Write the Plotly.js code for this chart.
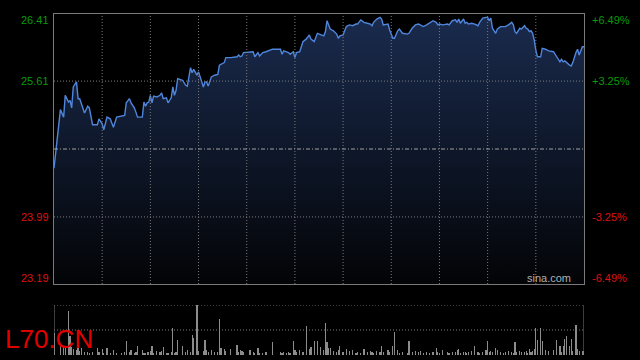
<!DOCTYPE html>
<html><head><meta charset="utf-8">
<script src="https://cdn.plot.ly/plotly-3.0.1.min.js"></script>
<style>html,body{margin:0;padding:0;background:#000;}#chart{width:640px;height:360px;}</style>
</head><body><div id="chart"></div>
<script>
// ---- data ----
const symbol = "L70.CN";
const prevClose = 24.80;
const yMin = 23.19, yMax = 26.41;
const sessionMinutes = 330;
const gridMinutes = [30,60,90,120,150,180,210,240,270,300];
const priceTickValues = [26.41, 25.61, 23.99, 23.19];
const priceTickLabels = ["26.41","25.61","23.99","23.19"];
const pctTickLabels = ["+6.49%","+3.25%","-3.25%","-6.49%"];

const minutes = [
 0,4,6,7,9,10,11,12,14,15,
 16,17,19,21,22,24,27,28,30,31,
 33,35,37,39,42,44,45,47,48,50,
 51,52,55,56,57,58,59,60,61,62,
 64,66,67,68,70,71,73,74,75,76,
 77,80,82,83,85,86,87,89,90,93,
 94,95,96,98,100,102,103,104,106,107,
 110,114,115,116,117,118,122,124,125,127,
 128,130,132,136,141,142,143,145,146,147,
 149,150,151,153,155,157,159,160,162,164,
 166,168,169,170,171,172,174,176,177,178,
 180,182,184,186,188,189,191,193,195,197,
 198,199,201,203,204,205,208,209,211,212,
 214,215,217,220,221,223,225,227,228,230,
 232,234,236,238,239,240,242,245,246,248,
 250,251,252,253,255,256,257,258,260,262,
 264,265,267,269,270,271,272,273,275,276,
 278,280,281,283,285,286,287,288,290,291,
 293,294,295,296,297,298,299,300,301,303,
 304,306,308,311,313,315,316,317,318,319,
 321,322,323,325,326,327,329,330
];
const prices = [
 24.57,25.27,25.18,25.44,25.36,25.38,25.29,25.54,25.60,25.40,
 25.40,25.35,25.23,25.31,25.29,25.09,25.09,25.16,25.10,25.03,
 25.18,25.16,25.06,25.18,25.19,25.20,25.35,25.40,25.35,25.29,
 25.24,25.18,25.18,25.36,25.31,25.35,25.36,25.44,25.35,25.43,
 25.42,25.44,25.47,25.40,25.41,25.35,25.41,25.54,25.44,25.50,
 25.64,25.62,25.56,25.55,25.77,25.71,25.75,25.68,25.72,25.54,
 25.60,25.60,25.55,25.66,25.68,25.69,25.80,25.81,25.83,25.89,
 25.89,25.90,25.92,25.90,25.91,25.95,25.96,25.96,25.90,25.95,
 25.91,25.95,25.96,25.99,25.99,25.93,25.97,25.96,25.95,25.93,
 25.96,25.89,25.95,25.96,26.08,26.11,26.16,26.11,26.08,26.18,
 26.16,26.15,26.20,26.33,26.28,26.23,26.21,26.17,26.12,26.15,
 26.16,26.26,26.28,26.27,26.29,26.29,26.34,26.31,26.30,26.29,
 26.27,26.31,26.35,26.37,26.35,26.28,26.29,26.22,26.12,26.12,
 26.21,26.23,26.18,26.17,26.18,26.24,26.28,26.29,26.28,26.26,
 26.28,26.31,26.33,26.31,26.28,26.29,26.28,26.29,26.28,26.33,
 26.34,26.31,26.35,26.30,26.35,26.30,26.31,26.29,26.30,26.29,
 26.27,26.31,26.36,26.37,26.37,26.33,26.36,26.24,26.18,26.23,
 26.26,26.26,26.26,26.28,26.31,26.28,26.20,26.18,26.24,26.23,
 26.27,26.24,26.23,26.20,26.21,26.18,26.10,25.98,25.90,25.90,
 26.00,25.99,25.97,25.96,25.90,25.84,25.87,25.84,25.85,25.83,
 25.80,25.79,25.83,25.95,25.99,25.92,26.02,26.02
];
const volumes = [
 43,20,15,18,88,37,15,12,10,13,
 8,13,5,6,4,5,13,5,11,4,
 13,4,10,3,3,5,27,6,10,4,
 5,18,9,4,3,5,6,8,18,4,
 7,5,7,15,3,4,5,55,4,6,
 30,17,5,10,6,40,33,100,7,7,
 30,10,6,10,5,6,72,13,12,8,
 11,20,6,10,8,5,10,6,4,13,
 4,3,6,25,5,4,5,3,5,4,
 27,10,6,10,5,58,12,15,28,27,
 15,10,65,25,13,13,8,5,10,17,
 5,11,8,9,4,5,4,11,5,8,
 5,4,8,5,17,5,10,6,17,45,
 10,4,5,4,27,6,7,6,7,4,
 5,4,6,13,5,4,10,5,4,6,
 5,9,12,4,6,5,4,6,7,18,
 5,4,6,10,27,5,8,6,13,10,
 5,4,6,8,5,4,25,5,7,6,
 5,7,4,11,6,8,12,55,29,55,
 28,10,7,10,29,17,6,17,31,38,
 17,31,8,60,11,7,8,7
];
const volMax = 100;

// ---- styles ----
const gridColor = "#7a7a7a";
const dotDash = "1px,2px";
const green = "#0a9a0a", red = "#dd1111";
const font = "Liberation Sans, Arial, sans-serif";

const traces = [
  {
    x: minutes, y: prices, type: "scatter", mode: "lines",
    line: {color: "#4f86dc", width: 1.4},
    fill: "tozeroy",
    fillgradient: {type: "vertical", start: yMin, stop: yMax,
      colorscale: [[0, "#030406"], [1, "#1a2b4e"]]},
    xaxis: "x", yaxis: "y", hoverinfo: "skip"
  },
  {
    x: minutes, y: volumes, type: "bar", width: 0.75,
    marker: {color: "#8c8c8c", line: {width: 0}},
    xaxis: "x2", yaxis: "y2", hoverinfo: "skip"
  }
];

const shapes = [];
gridMinutes.forEach(m => shapes.push({type: "line", xref: "x", yref: "y", x0: m, x1: m, y0: yMin, y1: yMax,
  line: {color: gridColor, width: 1, dash: dotDash}, layer: "above"}));
[25.61, 23.99].forEach(v => shapes.push({type: "line", xref: "x", yref: "y", x0: 0, x1: sessionMinutes, y0: v, y1: v,
  line: {color: gridColor, width: 1, dash: dotDash}, layer: "above"}));
shapes.push({type: "line", xref: "x", yref: "y", x0: 0, x1: sessionMinutes, y0: prevClose, y1: prevClose,
  line: {color: "#a0a0a0", width: 1, dash: "4px,2px,1px,2px"}, layer: "above"});
// volume panel frame
[volMax/2, volMax].forEach(v => shapes.push({type: "line", xref: "x2", yref: "y2", x0: 0, x1: sessionMinutes, y0: v, y1: v,
  line: {color: gridColor, width: 1, dash: dotDash}, layer: "below"}));
[0, sessionMinutes].forEach(m => shapes.push({type: "line", xref: "x2", yref: "y2", x0: m, x1: m, y0: 0, y1: volMax,
  line: {color: gridColor, width: 1}, layer: "above"}));

const annotations = [];
priceTickValues.forEach((v, i) => {
  const shift = i === 0 ? -6 : (i === priceTickValues.length - 1 ? 6 : 0);
  const col = v > prevClose ? green : red;
  annotations.push({xref: "paper", yref: "y", x: -0.006, y: v, yshift: shift, xanchor: "right", yanchor: "middle",
    text: priceTickLabels[i], showarrow: false, font: {family: font, size: 11, color: col}});
  annotations.push({xref: "paper", yref: "y", x: 1.011, y: v, yshift: shift, xanchor: "left", yanchor: "middle",
    text: pctTickLabels[i], showarrow: false, font: {family: font, size: 11, color: col}});
});
annotations.push({xref: "paper", yref: "y", x: 0.98, y: yMin, yshift: 6, xanchor: "right", yanchor: "middle",
  text: "sina.com", showarrow: false, font: {family: font, size: 11, color: "#b0b0b0"}});
annotations.push({xref: "paper", yref: "paper", x: -0.096, y: 0.047, xanchor: "left", yanchor: "middle",
  text: symbol, showarrow: false, font: {family: font, size: 26, color: "#e00000"}});

const layout = {
  width: 640, height: 360,
  margin: {l: 54, r: 56, t: 14, b: 5, pad: 0},
  paper_bgcolor: "#000", plot_bgcolor: "#000",
  showlegend: false, bargap: 0,
  xaxis: {domain: [0, 1], range: [0, sessionMinutes], anchor: "y", showgrid: false, zeroline: false,
    showticklabels: false, ticks: "", showline: true, mirror: true, linecolor: gridColor, linewidth: 1, fixedrange: true},
  yaxis: {domain: [0.2082, 1], range: [yMin, yMax], anchor: "x", showgrid: false, zeroline: false,
    showticklabels: false, ticks: "", showline: true, mirror: true, linecolor: gridColor, linewidth: 1, fixedrange: true},
  xaxis2: {domain: [0, 1], range: [0, sessionMinutes], anchor: "y2", showgrid: false, zeroline: false,
    showticklabels: false, ticks: "", showline: false, fixedrange: true},
  yaxis2: {domain: [0, 0.1466], range: [0, volMax], anchor: "x2", showgrid: false, zeroline: false,
    showticklabels: false, ticks: "", showline: false, fixedrange: true},
  shapes: shapes,
  annotations: annotations
};

Plotly.newPlot("chart", traces, layout, {displayModeBar: false, staticPlot: true});
</script>
</body></html>
